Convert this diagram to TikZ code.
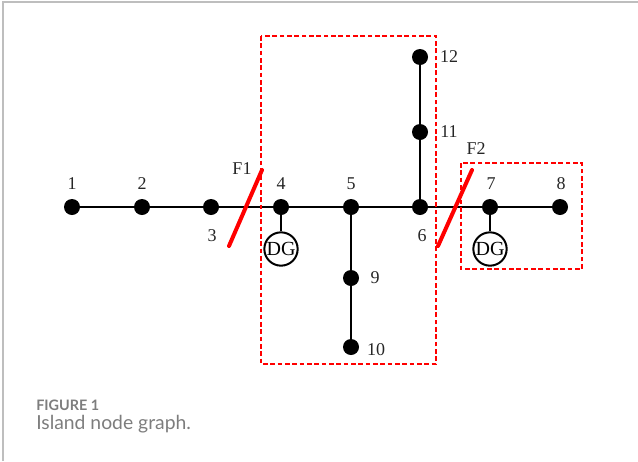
\documentclass[tikz,border=0pt]{standalone}
\usepackage{xcolor}
\usepackage{fontspec}
\setmainfont{Liberation Serif}
\newfontfamily\captionfont{Lato}

\definecolor{framegray}{RGB}{190,190,190}
\definecolor{captiongray}{RGB}{125,125,125}

\begin{document}
\begin{tikzpicture}[
x=0.75pt, y=-0.75pt,
% Style for the buses
bus style/.style={
circle,
fill=black,
inner sep=0pt,
minimum size=12pt
},
% Style for the generators
dg style/.style={
circle,
draw=black,
fill=white,
line width=1.5pt,
inner sep=0pt,
minimum size=25pt,
font=\fontsize{15}{15}\selectfont
},
num style/.style={
inner sep=0pt,
text=black!85,
font=\fontsize{13.5}{13.5}\selectfont
},
line style/.style={
draw=black,
line width=1.6pt
},
fault style/.style={
draw=red,
line width=3pt,
line cap=round
},
island style/.style={
draw=red,
line width=1.7pt,
dash pattern=on 3.4pt off 2.1pt
}
]

\useasboundingbox (0,0) rectangle (638,461);

% Outer frame
\coordinate (f1) at (3,461);
\coordinate (f2) at (3,2);
\coordinate (f3) at (638,2);
\draw[framegray, line width=0.9pt] (f1) -- (f2) -- (f3);

% Place the buses
\foreach \i/\x/\y in {1/72/207,2/142/207,3/211/207,4/281/207,5/351/207,6/420/207,7/490/207,8/560/207,9/351/278,10/351/347,11/420/132,12/420/57} {
\node[bus style] (v\i) at (\x,\y) {};
}

% Feeder lines
\draw[line style] (v1) -- (v8);
\draw[line style] (v5) -- (v10);
\draw[line style] (v6) -- (v12);

% Generators
\node[dg style] (dg4) at (281,249) {DG};
\node[dg style] (dg7) at (490,249) {DG};
\draw[line style] (v4) -- (dg4);
\draw[line style] (v7) -- (dg7);

% Bus numbers
\foreach \i/\x/\y in {1/72/184,2/142/184,3/212/236,4/281/184,5/351/184,6/422/236,7/491/184,8/561/184,9/375/278,10/376/350,11/449/132,12/449/57} {
\node[num style] (n\i) at (\x,\y) {\i};
}

% Island boundaries
\coordinate (a1) at (261,36);
\coordinate (a2) at (436,364);
\coordinate (b1) at (461,163);
\coordinate (b2) at (582,269);
\draw[island style] (a1) rectangle (a2);
\draw[island style] (b1) rectangle (b2);

% Faults
\coordinate (s1) at (229,246);
\coordinate (e1) at (262,170);
\coordinate (s2) at (438,246);
\coordinate (e2) at (472,170);
\draw[fault style] (s1) -- (e1);
\draw[fault style] (s2) -- (e2);
\node[num style] (f1label) at (242,169) {F1};
\node[num style] (f2label) at (476,149) {F2};

% Caption
\node[anchor=west, inner sep=0pt, text=captiongray, font=\captionfont\bfseries\fontsize{10.8}{10.8}\selectfont] (figlabel) at (36,405) {FIGURE 1};
\node[anchor=west, inner sep=0pt, text=captiongray, font=\captionfont\fontsize{14.5}{14.5}\selectfont] (figcaption) at (36,424) {Island node graph.};

\end{tikzpicture}
\end{document}
